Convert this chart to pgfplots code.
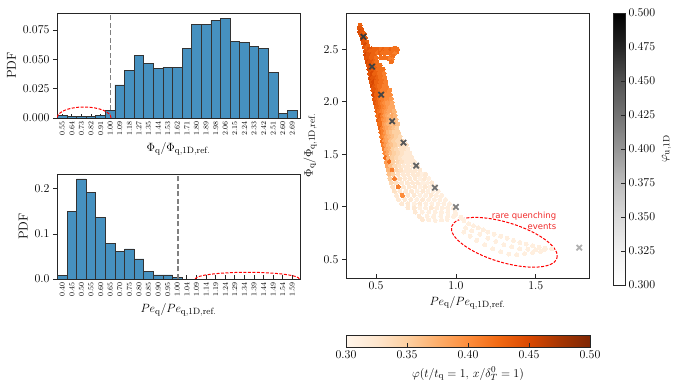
\documentclass[border=0pt]{standalone}
\usepackage{fontspec}
\usepackage{pgfplots}
\pgfplotsset{compat=1.18}
\newfontfamily\annfont{DejaVu Sans}
\definecolor{histblue}{RGB}{70,145,192}
\definecolor{annred}{RGB}{240,40,40}
\definecolor{xgA}{RGB}{58,58,58}
\definecolor{xgB}{RGB}{64,64,64}
\definecolor{xgC}{RGB}{70,70,70}
\definecolor{xgD}{RGB}{78,78,78}
\definecolor{xgE}{RGB}{88,88,88}
\definecolor{xgF}{RGB}{100,100,100}
\definecolor{xgG}{RGB}{114,114,114}
\definecolor{xgH}{RGB}{128,128,128}
\definecolor{xgI}{RGB}{176,176,176}

\pgfplotsset{
  colormap={oranges}{rgb255(0cm)=(255,245,235) rgb255(1cm)=(254,230,206) rgb255(2cm)=(253,208,162)
    rgb255(3cm)=(253,174,107) rgb255(4cm)=(253,141,60) rgb255(5cm)=(241,105,19)
    rgb255(6cm)=(217,72,1) rgb255(7cm)=(166,54,3) rgb255(8cm)=(127,39,4)},
  colormap={greys}{rgb255(0cm)=(255,255,255) rgb255(1cm)=(240,240,240) rgb255(2cm)=(217,217,217)
    rgb255(3cm)=(189,189,189) rgb255(4cm)=(150,150,150) rgb255(5cm)=(115,115,115)
    rgb255(6cm)=(82,82,82) rgb255(7cm)=(37,37,37) rgb255(8cm)=(0,0,0)},
  lines/.style={
    scale only axis,
    axis line style={line width=0.9bp, black!85},
    every tick/.append style={line width=0.8bp, black!85},
    major tick length=4bp,
    tick align=inside,
    tick label style={font=\fontsize{12}{14}\selectfont},
    label style={font=\fontsize{13}{15}\selectfont},
  },
  base/.style={
    lines,
    xtick pos=left, ytick pos=left,
    every major y tick/.append style={xshift=-4bp},
    yticklabel style={xshift=-4bp},
  },
  histstyle/.style={
    base, width=243bp, height=105bp,
    xmin=-0.55, xmax=24.8, ymin=0,
    xtick={0,...,24},
    xticklabel style={rotate=90, anchor=east, font=\fontsize{7.5}{8}\selectfont},
    scaled y ticks=false,
    ylabel={PDF},
  },
}

\begin{document}
\begin{tikzpicture}
\useasboundingbox (0,0) rectangle (684bp,391bp);

% top histogram
\begin{axis}[histstyle, at={(57bp,273bp)}, anchor=south west,
  ymax=0.0895, ytick={0,0.025,0.05,0.075},
  yticklabel style={/pgf/number format/.cd, fixed, fixed zerofill, precision=3},
  xticklabels={0.55,0.64,0.73,0.82,0.91,1.00,1.09,1.18,1.27,1.35,1.44,1.53,1.62,1.71,1.80,1.89,1.98,2.06,2.15,2.24,2.33,2.42,2.51,2.60,2.69},
  xlabel={$\Phi_\mathrm{q}/\Phi_\mathrm{q,1D,ref.}$}]
\addplot[ybar, bar width=1, fill=histblue, draw=black!80, line width=0.7bp] coordinates {
  (0,0.0023) (1,0.0015) (2,0.0010) (3,0.0012) (4,0.0023) (5,0.0066) (6,0.0282) (7,0.0402)
  (8,0.0533) (9,0.0465) (10,0.0419) (11,0.0433) (12,0.0433) (13,0.0593) (14,0.0796)
  (15,0.0796) (16,0.0833) (17,0.0850) (18,0.0653) (19,0.0647) (20,0.0607) (21,0.0590)
  (22,0.0391) (23,0.0037) (24,0.0063)
};
\draw[black!50, line width=1.6bp, dash pattern=on 5bp off 2.5bp] (axis cs:5.04,0) -- (axis cs:5.04,0.0895);
\draw[red, line width=1bp, dash pattern=on 3bp off 1.5bp] (axis cs:2.27,0) ellipse [x radius=27bp, y radius=11bp];
\end{axis}

% bottom histogram
\begin{axis}[histstyle, at={(57bp,112bp)}, anchor=south west,
  ymax=0.233, ytick={0,0.1,0.2},
  yticklabel style={/pgf/number format/.cd, fixed, fixed zerofill, precision=1},
  xticklabels={0.40,0.45,0.50,0.55,0.60,0.65,0.70,0.75,0.80,0.85,0.90,0.95,1.00,1.04,1.09,1.14,1.19,1.24,1.29,1.34,1.39,1.44,1.49,1.54,1.59},
  xlabel={$Pe_\mathrm{q}/Pe_\mathrm{q,1D,ref.}$}]
\addplot[ybar, bar width=1, fill=histblue, draw=black!80, line width=0.7bp] coordinates {
  (0,0.008) (1,0.150) (2,0.222) (3,0.193) (4,0.136) (5,0.0785) (6,0.0607) (7,0.0667)
  (8,0.0444) (9,0.0163) (10,0.0089) (11,0.0089) (12,0.0037)
};
\draw[black!50, line width=1.6bp, dash pattern=on 5bp off 2.5bp] (axis cs:12.1,0) -- (axis cs:12.1,0.233);
\draw[red, line width=1bp, dash pattern=on 3bp off 1.5bp] (axis cs:19.3,0) ellipse [x radius=52bp, y radius=6.7bp];
\end{axis}

% scatter
\begin{axis}[base, at={(346bp,113bp)}, anchor=south west, width=243bp, height=265bp,
  xmin=0.312, xmax=1.833, ymin=0.322, ymax=2.846,
  xtick={0.5,1,1.5}, ytick={0.5,1,1.5,2,2.5},
  xticklabel style={/pgf/number format/.cd, fixed, fixed zerofill, precision=1},
  yticklabel style={/pgf/number format/.cd, fixed, fixed zerofill, precision=1},
  xlabel={$Pe_\mathrm{q}/Pe_\mathrm{q,1D,ref.}$},
  ylabel={$\Phi_\mathrm{q}/\Phi_\mathrm{q,1D,ref.}$},
  colormap name=oranges, point meta min=0.3, point meta max=0.5,
]
\addplot[scatter, only marks, mark=*, mark size=2bp, point meta=explicit,
  scatter/use mapped color={draw=mapped color, fill=mapped color},
  mark options={line width=0pt}] table[meta=c] {
x y c
0.400 2.730 0.43
0.394 2.700 0.44
0.408 2.695 0.44
0.398 2.670 0.45
0.413 2.662 0.44
0.426 2.650 0.43
0.405 2.640 0.44
0.419 2.622 0.44
0.433 2.612 0.43
0.414 2.595 0.45
0.428 2.582 0.44
0.441 2.570 0.43
0.421 2.560 0.44
0.435 2.545 0.45
0.449 2.535 0.43
0.428 2.522 0.44
0.443 2.510 0.43
0.457 2.503 0.44
0.472 2.505 0.44
0.487 2.500 0.43
0.502 2.503 0.43
0.517 2.498 0.43
0.532 2.502 0.42
0.547 2.500 0.43
0.562 2.503 0.42
0.577 2.498 0.42
0.592 2.502 0.43
0.607 2.506 0.42
0.622 2.512 0.42
0.634 2.500 0.42
0.630 2.475 0.42
0.482 2.465 0.43
0.497 2.462 0.43
0.512 2.465 0.42
0.527 2.462 0.43
0.542 2.465 0.42
0.557 2.462 0.42
0.572 2.465 0.42
0.588 2.462 0.42
0.603 2.466 0.42
0.617 2.460 0.41
0.530 2.420 0.42
0.545 2.418 0.42
0.560 2.420 0.42
0.575 2.417 0.42
0.590 2.420 0.41
0.605 2.435 0.42
0.600 2.400 0.41
0.595 2.380 0.42
0.432 2.48 0.44
0.447 2.48 0.44
0.462 2.48 0.43
0.436 2.45 0.45
0.451 2.45 0.44
0.466 2.45 0.44
0.479 2.45 0.43
0.440 2.42 0.44
0.455 2.42 0.44
0.470 2.42 0.43
0.485 2.42 0.43
0.500 2.42 0.42
0.445 2.38 0.45
0.460 2.38 0.44
0.475 2.38 0.44
0.490 2.38 0.43
0.505 2.38 0.42
0.450 2.35 0.44
0.465 2.35 0.45
0.480 2.35 0.43
0.495 2.35 0.43
0.510 2.35 0.42
0.525 2.35 0.42
0.455 2.31 0.45
0.470 2.31 0.44
0.485 2.31 0.44
0.500 2.31 0.43
0.515 2.31 0.42
0.530 2.31 0.42
0.545 2.31 0.42
0.460 2.27 0.44
0.475 2.27 0.45
0.490 2.27 0.43
0.505 2.27 0.43
0.520 2.27 0.42
0.535 2.27 0.42
0.550 2.27 0.41
0.465 2.23 0.45
0.480 2.23 0.44
0.495 2.23 0.44
0.510 2.23 0.43
0.525 2.23 0.42
0.540 2.23 0.42
0.555 2.23 0.41
0.470 2.19 0.44
0.485 2.19 0.45
0.500 2.19 0.43
0.515 2.19 0.43
0.530 2.19 0.42
0.545 2.19 0.42
0.560 2.19 0.41
0.475 2.15 0.45
0.490 2.15 0.44
0.505 2.15 0.43
0.520 2.15 0.42
0.535 2.15 0.42
0.550 2.15 0.41
0.565 2.15 0.41
0.480 2.11 0.44
0.495 2.11 0.44
0.510 2.11 0.43
0.525 2.11 0.42
0.540 2.11 0.41
0.555 2.11 0.41
0.570 2.11 0.41
0.585 2.11 0.40
0.485 2.07 0.45
0.500 2.07 0.43
0.515 2.07 0.43
0.530 2.07 0.42
0.545 2.07 0.41
0.560 2.07 0.40
0.575 2.07 0.40
0.590 2.07 0.40
0.490 2.03 0.44
0.505 2.03 0.43
0.520 2.03 0.42
0.535 2.03 0.41
0.550 2.03 0.41
0.565 2.03 0.40
0.580 2.03 0.40
0.595 2.03 0.39
0.495 1.99 0.44
0.510 1.99 0.43
0.525 1.99 0.42
0.540 1.99 0.41
0.555 1.99 0.40
0.570 1.99 0.39
0.585 1.99 0.39
0.600 1.99 0.38
0.500 1.95 0.43
0.515 1.95 0.43
0.530 1.95 0.42
0.545 1.95 0.41
0.560 1.95 0.40
0.575 1.95 0.39
0.590 1.95 0.38
0.605 1.95 0.38
0.505 1.91 0.43
0.520 1.91 0.42
0.535 1.91 0.41
0.550 1.91 0.40
0.565 1.91 0.39
0.580 1.91 0.38
0.600 1.91 0.38
0.615 1.91 0.37
0.510 1.87 0.42
0.525 1.87 0.43
0.540 1.87 0.41
0.555 1.87 0.39
0.570 1.87 0.38
0.585 1.87 0.37
0.605 1.87 0.38
0.620 1.87 0.37
0.515 1.83 0.43
0.530 1.83 0.42
0.545 1.83 0.40
0.560 1.83 0.39
0.575 1.83 0.38
0.590 1.83 0.37
0.610 1.83 0.37
0.625 1.83 0.36
0.520 1.79 0.42
0.535 1.79 0.42
0.550 1.79 0.39
0.565 1.79 0.38
0.580 1.79 0.37
0.600 1.79 0.36
0.620 1.79 0.37
0.635 1.79 0.36
0.525 1.75 0.43
0.540 1.75 0.41
0.555 1.75 0.39
0.570 1.75 0.38
0.590 1.75 0.37
0.610 1.75 0.36
0.630 1.75 0.35
0.530 1.71 0.42
0.545 1.71 0.41
0.560 1.71 0.39
0.575 1.71 0.37
0.595 1.71 0.36
0.615 1.71 0.35
0.640 1.71 0.35
0.535 1.67 0.41
0.550 1.67 0.40
0.565 1.67 0.38
0.585 1.67 0.37
0.605 1.67 0.36
0.625 1.67 0.35
0.650 1.67 0.34
0.540 1.63 0.42
0.555 1.63 0.39
0.570 1.63 0.38
0.590 1.63 0.36
0.610 1.63 0.35
0.635 1.63 0.34
0.660 1.63 0.34
0.545 1.59 0.41
0.560 1.59 0.39
0.578 1.59 0.37
0.598 1.59 0.36
0.620 1.59 0.35
0.645 1.59 0.34
0.670 1.59 0.33
0.690 1.59 0.33
0.550 1.55 0.41
0.565 1.55 0.38
0.585 1.55 0.37
0.605 1.55 0.35
0.628 1.55 0.34
0.655 1.55 0.33
0.680 1.55 0.33
0.700 1.55 0.32
0.555 1.51 0.40
0.572 1.51 0.38
0.592 1.51 0.36
0.615 1.51 0.35
0.640 1.51 0.34
0.665 1.51 0.33
0.690 1.51 0.32
0.712 1.51 0.32
0.560 1.47 0.42
0.578 1.47 0.37
0.600 1.47 0.35
0.625 1.47 0.34
0.650 1.47 0.33
0.675 1.47 0.32
0.700 1.47 0.32
0.725 1.47 0.32
0.565 1.43 0.39
0.585 1.43 0.42
0.608 1.43 0.35
0.635 1.43 0.34
0.660 1.43 0.33
0.690 1.43 0.32
0.715 1.43 0.32
0.740 1.43 0.32
0.570 1.39 0.38
0.592 1.39 0.36
0.618 1.39 0.34
0.645 1.39 0.33
0.672 1.39 0.32
0.700 1.39 0.32
0.730 1.39 0.32
0.760 1.39 0.32
0.575 1.35 0.37
0.600 1.35 0.41
0.628 1.35 0.34
0.655 1.35 0.33
0.685 1.35 0.32
0.715 1.35 0.32
0.745 1.35 0.32
0.775 1.35 0.32
0.580 1.31 0.36
0.608 1.31 0.35
0.638 1.31 0.33
0.668 1.31 0.32
0.698 1.31 0.32
0.730 1.31 0.32
0.760 1.31 0.32
0.790 1.31 0.31
0.810 1.31 0.32
0.587 1.27 0.35
0.616 1.27 0.41
0.648 1.27 0.33
0.680 1.27 0.32
0.712 1.27 0.32
0.745 1.27 0.32
0.775 1.27 0.31
0.805 1.27 0.32
0.830 1.27 0.31
0.595 1.23 0.34
0.625 1.23 0.33
0.660 1.23 0.32
0.695 1.23 0.32
0.728 1.23 0.32
0.760 1.23 0.32
0.792 1.23 0.31
0.822 1.23 0.31
0.850 1.23 0.32
0.605 1.19 0.33
0.638 1.19 0.41
0.672 1.19 0.32
0.708 1.19 0.32
0.742 1.19 0.32
0.776 1.19 0.31
0.808 1.19 0.32
0.840 1.19 0.31
0.870 1.19 0.31
0.615 1.15 0.33
0.648 1.15 0.32
0.685 1.15 0.32
0.722 1.15 0.32
0.758 1.15 0.31
0.792 1.15 0.32
0.825 1.15 0.31
0.858 1.15 0.31
0.890 1.15 0.31
0.628 1.11 0.32
0.665 1.11 0.40
0.700 1.11 0.32
0.738 1.11 0.32
0.775 1.11 0.31
0.810 1.11 0.31
0.845 1.11 0.32
0.878 1.11 0.31
0.910 1.11 0.31
0.640 1.07 0.32
0.680 1.07 0.32
0.718 1.07 0.32
0.755 1.07 0.31
0.792 1.07 0.32
0.830 1.07 0.31
0.865 1.07 0.31
0.900 1.07 0.31
0.935 1.07 0.31
0.660 1.03 0.32
0.700 1.03 0.32
0.740 1.03 0.31
0.775 1.03 0.32
0.812 1.03 0.31
0.850 1.03 0.31
0.888 1.03 0.31
0.925 1.03 0.31
0.960 1.03 0.31
0.700 0.99 0.32
0.740 0.99 0.32
0.775 0.99 0.31
0.810 0.99 0.31
0.845 0.99 0.32
0.880 0.99 0.31
0.915 0.99 0.31
0.950 0.99 0.31
0.985 0.99 0.31
0.745 0.95 0.32
0.790 0.95 0.31
0.830 0.95 0.31
0.870 0.95 0.31
0.910 0.95 0.31
0.950 0.95 0.31
0.995 0.95 0.31
0.770 0.91 0.32
0.820 0.91 0.31
0.860 0.91 0.31
0.905 0.91 0.31
0.950 0.91 0.31
0.985 0.91 0.31
0.790 0.88 0.32
0.830 0.875 0.31
0.870 0.87 0.31
0.910 0.875 0.31
0.945 0.88 0.31
1.000 0.930 0.31
1.030 0.900 0.31
1.050 0.870 0.31
1.080 0.840 0.31
1.110 0.820 0.31
1.140 0.800 0.31
1.170 0.780 0.31
1.200 0.760 0.31
1.240 0.740 0.31
1.280 0.720 0.31
1.320 0.700 0.31
1.360 0.680 0.31
1.400 0.660 0.31
1.440 0.645 0.31
1.480 0.630 0.31
1.520 0.615 0.31
1.560 0.605 0.31
1.600 0.600 0.31
1.060 0.800 0.31
1.100 0.770 0.31
1.150 0.740 0.31
1.200 0.700 0.31
1.250 0.670 0.31
1.300 0.640 0.31
1.350 0.620 0.31
1.400 0.600 0.31
1.450 0.595 0.31
1.500 0.590 0.31
1.550 0.590 0.31
1.050 0.760 0.31
1.090 0.720 0.31
1.130 0.680 0.31
1.180 0.640 0.31
1.230 0.600 0.31
1.280 0.570 0.31
1.330 0.550 0.31
1.380 0.545 0.31
1.430 0.555 0.31
1.480 0.565 0.31
1.530 0.575 0.31
};
\addplot[scatter, only marks, mark=x, mark size=3.8bp, mark options={line width=1.8bp},
  point meta=explicit symbolic,
  scatter/classes={A={draw=xgA}, B={draw=xgB}, C={draw=xgC}, D={draw=xgD}, E={draw=xgE},
    F={draw=xgF}, G={draw=xgG}, H={draw=xgH}, I={draw=xgI}}] table[meta=c] {
x y c
0.421 2.620 A
0.475 2.335 B
0.532 2.068 C
0.601 1.815 D
0.672 1.611 E
0.751 1.392 F
0.868 1.182 G
1.000 0.998 H
1.772 0.611 I
};
\draw[red, line width=1bp, dash pattern=on 3bp off 1.5bp, rotate around={-16.8:(axis cs:1.303,0.662)}]
  (axis cs:1.303,0.662) ellipse [x radius=55bp, y radius=20bp];
\node[anchor=east, align=right, text=annred, inner sep=0pt,
  font=\annfont\fontsize{8.5}{11}\selectfont] at (axis cs:1.629,0.870) {rare quenching\\events};
\end{axis}

% horizontal colorbar (Oranges)
\begin{axis}[lines, at={(346bp,44bp)}, anchor=south west, width=244bp, height=12bp,
  xmin=0.3, xmax=0.5, ymin=0, ymax=1, ytick=\empty, xtick pos=left,
  xtick={0.30,0.35,0.40,0.45,0.50},
  xticklabel style={/pgf/number format/.cd, fixed, fixed zerofill, precision=2},
  xlabel={$\varphi(t/t_\mathrm{q}=1,\, x/\delta_T^0=1)$},
  xlabel style={yshift=-2bp},
  colormap name=oranges, point meta min=0.3, point meta max=0.5, axis on top]
\addplot[surf, shader=interp, mesh/cols=2, point meta=x] coordinates {
  (0.3,0) (0.5,0)
  (0.3,1) (0.5,1)
};
\end{axis}

% vertical colorbar (Greys)
\begin{axis}[lines, at={(613bp,106bp)}, anchor=south west, width=12bp, height=272bp,
  xmin=0, xmax=1, ymin=0.3, ymax=0.5, xtick=\empty,
  ytick pos=right, yticklabel pos=right,
  ytick={0.3,0.325,0.35,0.375,0.4,0.425,0.45,0.475,0.5},
  yticklabel style={/pgf/number format/.cd, fixed, fixed zerofill, precision=3},
  ylabel={$\varphi_\mathrm{u,1D}$},
  colormap name=greys, point meta min=0.3, point meta max=0.5, axis on top]
\addplot[surf, shader=interp, mesh/cols=2, point meta=y] coordinates {
  (0,0.3) (1,0.3)
  (0,0.5) (1,0.5)
};
\end{axis}
\end{tikzpicture}
\end{document}
